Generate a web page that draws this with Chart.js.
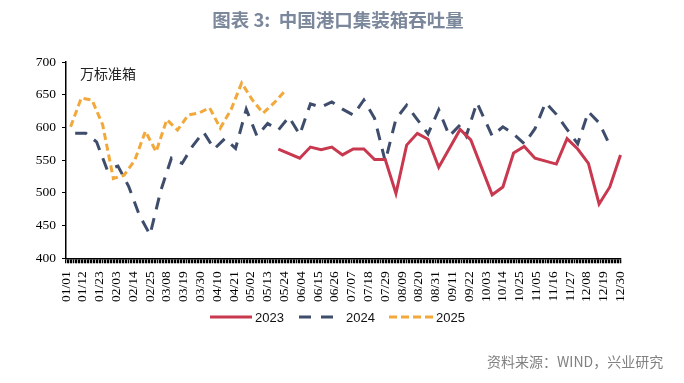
<!DOCTYPE html>
<html><head><meta charset="utf-8">
<script src="https://cdn.jsdelivr.net/npm/chart.js@4/dist/chart.umd.min.js"></script>
<style>html,body{margin:0;padding:0;background:#fff;}#wrap{position:relative;width:684px;height:383px;}</style>
</head><body><div id="wrap"><canvas id="c" width="684" height="383"></canvas></div>
<script>
// Category axis: every day of the year 01/01 .. 12/30, labelled every 11th day
const monthDays = [31,28,31,30,31,30,31,31,30,31,30,31];
const dayLabels = [];
for (let m = 0; m < 12; m++) {
  for (let d = 1; d <= monthDays[m]; d++) {
    dayLabels.push(String(m + 1).padStart(2, '0') + '/' + String(d).padStart(2, '0'));
  }
}
dayLabels.pop(); // ends at 12/30
const labelEvery = 11;
const yTicks = [400, 450, 500, 550, 600, 650, 700];

const dates2023 = ['05/20','06/03','06/10','06/17','06/24','07/01','07/08','07/15','07/22','07/29','08/05','08/12','08/19','08/26','09/02','09/16','09/23','10/07','10/14','10/21','10/28','11/04','11/18','11/25','12/02','12/09','12/16','12/23','12/30'];
const values2023 = [567,553,570,566,570,558,567,567,551,551,499,573,591,582,539,597,581,497,509,561,571,553,544,583,567,545,483,509,558];

const dates2024 = ['01/07','01/14','01/21','01/28','02/04','02/11','02/18','02/25','03/04','03/11','03/18','03/25','04/01','04/08','04/15','04/22','04/29','05/06','05/13','05/20','05/27','06/03','06/10','06/17','06/24','07/01','07/08','07/15','07/22','07/29','08/05','08/12','08/19','08/26','09/02','09/09','09/16','09/20','09/27','10/07','10/14','10/21','10/28','11/04','11/11','11/18','11/25','12/02','12/09','12/16','12/23'];
const values2024 = [591,591,578,535,541,510,466,436,503,553,545,572,593,567,583,568,628,587,606,596,616,589,636,631,639,628,619,642,614,548,613,634,612,590,627,587,604,587,638,587,601,590,575,598,638,620,597,575,624,607,573];

const dates2025 = ['01/04','01/11','01/18','01/25','02/01','02/08','02/15','02/22','03/01','03/08','03/15','03/22','03/29','04/05','04/12','04/19','04/26','05/03','05/10','05/17','05/24'];
const values2025 = [601,645,642,604,522,527,550,594,563,612,596,619,622,630,599,627,668,642,622,637,655];

const pts = (ds, vs) => ds.map((d, i) => ({x: d, y: vs[i]}));

const RED = '#C8384F', NAVY = '#3E4D6B', ORANGE = '#F2A83A';

const deco = {
  id: 'deco',
  afterDraw(chart) {
    const ctx = chart.ctx;
    ctx.save();
    ctx.fillStyle = '#7B879B';
    ctx.font = 'bold 18.5px "Noto Sans CJK SC"';
    ctx.textAlign = 'center'; ctx.textBaseline = 'middle';
    ctx.fillText('图表 3:  中国港口集装箱吞吐量', 338, 20);
    ctx.fillStyle = '#222';
    ctx.font = '14px "Noto Sans CJK SC"';
    ctx.textAlign = 'left';
    ctx.fillText('万标准箱', 80, 74);
    // legend
    const ly = 317;
    const items = [
      {x0: 210, x1: 252, c: RED, dash: [], tx: 255, t: '2023'},
      {x0: 299, x1: 333, c: NAVY, dash: [12, 10], tx: 346, t: '2024'},
      {x0: 389, x1: 433, c: ORANGE, dash: [8, 4], tx: 436, t: '2025'}
    ];
    ctx.font = '13px "Liberation Sans"';
    items.forEach(it => {
      ctx.beginPath();
      ctx.setLineDash(it.dash);
      ctx.strokeStyle = it.c; ctx.lineWidth = 3;
      ctx.moveTo(it.x0, ly); ctx.lineTo(it.x1, ly); ctx.stroke();
      ctx.setLineDash([]);
      ctx.fillStyle = '#111';
      ctx.fillText(it.t, it.tx, ly + 1);
    });
    ctx.fillStyle = '#808080';
    ctx.font = '14px "Noto Sans CJK SC"';
    ctx.fillText('资料来源：WIND，兴业研究', 487, 362);
    ctx.restore();
  }
};

new Chart(document.getElementById('c'), {
  type: 'line',
  data: {
    labels: dayLabels,
    datasets: [
      {label: '2023', data: pts(dates2023, values2023), borderColor: RED, borderWidth: 3, pointRadius: 0, tension: 0, fill: false},
      {label: '2024', data: pts(dates2024, values2024), borderColor: NAVY, borderWidth: 3, borderDash: [12, 9], pointRadius: 0, tension: 0, fill: false},
      {label: '2025', data: pts(dates2025, values2025), borderColor: ORANGE, borderWidth: 3, borderDash: [7, 4], pointRadius: 0, tension: 0, fill: false}
    ]
  },
  options: {
    responsive: false, animation: false,
    layout: {padding: {top: 62, right: 63.5, left: 0, bottom: 0}},
    plugins: {legend: {display: false}, tooltip: {enabled: false}},
    scales: {
      x: {
        type: 'category',
        grid: {drawOnChartArea: false, drawTicks: true, tickLength: 5, color: '#000', lineWidth: 1.3},
        border: {display: true, color: '#000', width: 1.5},
        ticks: {autoSkip: false, maxRotation: 90, minRotation: 90, padding: 8, color: '#000',
          font: {family: '"Liberation Serif"', size: 13.5},
          callback: (v, i) => (i % labelEvery === 0 ? dayLabels[i] : '')},
        afterFit: s => { s.height = 383 - 258.3; }
      },
      y: {
        min: yTicks[0], max: yTicks[yTicks.length - 1],
        afterBuildTicks: s => { s.ticks = yTicks.map(v => ({value: v})); },
        grid: {drawOnChartArea: false, drawTicks: true, tickLength: 4, color: '#000'},
        border: {display: true, color: '#000', width: 1.5},
        ticks: {color: '#000', padding: 6, font: {family: '"Liberation Serif"', size: 13.5}},
        afterFit: s => { s.width = 66; }
      }
    }
  },
  plugins: [deco]
});
</script></body></html>
